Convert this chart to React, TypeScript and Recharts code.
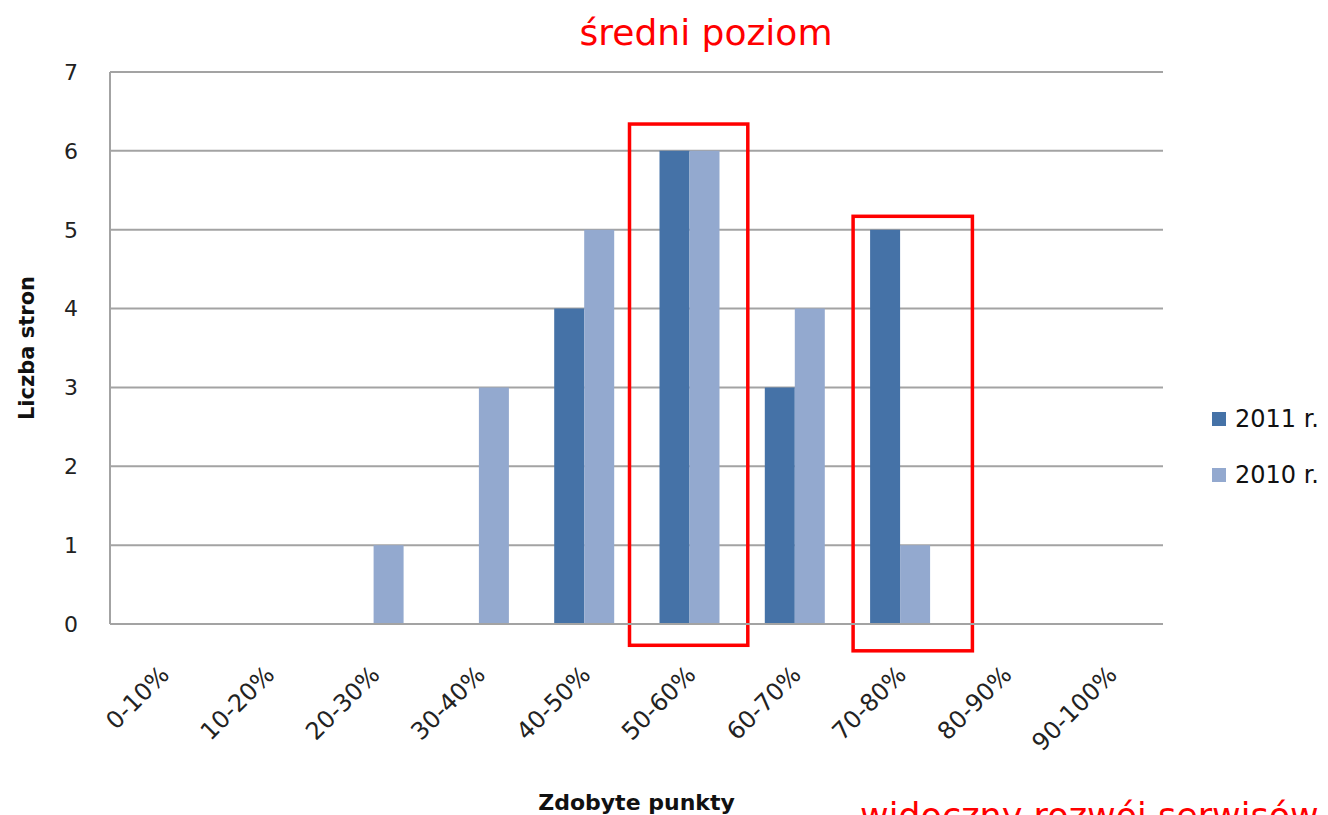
import {
  BarChart,
  Bar,
  XAxis,
  YAxis,
  CartesianGrid,
  Legend,
  ReferenceArea,
} from "recharts";

const ranges = [
  "0-10%",
  "10-20%",
  "20-30%",
  "30-40%",
  "40-50%",
  "50-60%",
  "60-70%",
  "70-80%",
  "80-90%",
  "90-100%",
];
const pages2011 = [0, 0, 0, 0, 4, 6, 3, 5, 0, 0];
const pages2010 = [0, 0, 1, 3, 5, 6, 4, 1, 0, 0];
const seriesNames = ["2011 r.", "2010 r."];
const yTicks = [0, 1, 2, 3, 4, 5, 6, 7];

const data = ranges.map((range, i) => ({
  range,
  y2011: pages2011[i],
  y2010: pages2010[i],
}));

// red highlight boxes drawn over the chart
const highlights = [
  { range: "50-60%", top: 6.34, bottom: -0.27, padLeft: 7, padRight: 6 },
  { range: "70-80%", top: 5.17, bottom: -0.34, padLeft: -6, padRight: 20 },
];

const GRID = "#a3a3a3";
const FONT = "'DejaVu Sans', Verdana, sans-serif";

const AngledTick = ({ x, y, payload }: any) => (
  <g transform={`translate(${x + 8},${y + 50})`}>
    <text
      textAnchor="end"
      transform="rotate(-45)"
      fontSize={24}
      fontFamily={FONT}
      fill="#222"
    >
      {payload.value}
    </text>
  </g>
);

const renderLegend = ({ payload }: any) => {
  const items = [...(payload || [])].sort(
    (a: any, b: any) => seriesNames.indexOf(a.value) - seriesNames.indexOf(b.value)
  );
  return (
    <div style={{ fontFamily: FONT, fontSize: 24, color: "#111" }}>
      {items.map((entry: any) => (
        <div
          key={entry.value}
          style={{ display: "flex", alignItems: "center", height: 56 }}
        >
          <span
            style={{
              display: "inline-block",
              width: 14,
              height: 14,
              background: entry.color,
              marginRight: 9,
            }}
          />
          <span>{entry.value}</span>
        </div>
      ))}
    </div>
  );
};

const boxShape = (padLeft: number, padRight: number) => (props: any) =>
  (
    <rect
      x={props.x - padLeft}
      y={props.y}
      width={props.width + padLeft + padRight}
      height={props.height}
      fill="none"
      stroke="#ff0000"
      strokeWidth={3.5}
    />
  );

export default function App() {
  return (
    <div
      style={{
        position: "absolute",
        left: 0,
        top: 0,
        width: 1328,
        height: 815,
        overflow: "hidden",
        background: "#fff",
      }}
    >
      <BarChart
        width={1328}
        height={815}
        data={data}
        margin={{ top: 72, right: 165, left: 10, bottom: 91 }}
        barGap={0}
      >
        <CartesianGrid vertical={false} stroke={GRID} strokeWidth={2} />
        <XAxis
          dataKey="range"
          interval={0}
          height={100}
          tickLine={false}
          tickSize={0}
          axisLine={{ stroke: GRID, strokeWidth: 2 }}
          tick={<AngledTick />}
          label={({ viewBox }: any) => (
            <text
              x={viewBox.x + viewBox.width / 2}
              y={viewBox.y + viewBox.height + 86}
              textAnchor="middle"
              fontSize={22}
              fontWeight="bold"
              fontFamily={FONT}
              fill="#111"
            >
              Zdobyte punkty
            </text>
          )}
        />
        <YAxis
          width={100}
          domain={[0, 7]}
          ticks={yTicks}
          interval={0}
          tickLine={false}
          tickSize={0}
          tickMargin={32}
          axisLine={{ stroke: GRID, strokeWidth: 2 }}
          tick={{ fontSize: 22, fontFamily: FONT, fill: "#222" }}
          label={({ viewBox }: any) => {
            const cx = 27;
            const cy = viewBox.y + viewBox.height / 2;
            return (
              <text
                x={cx}
                y={cy}
                transform={`rotate(-90, ${cx}, ${cy})`}
                textAnchor="middle"
                dominantBaseline="central"
                fontSize={21}
                fontWeight="bold"
                fontFamily={FONT}
                fill="#111"
              >
                Liczba stron
              </text>
            );
          }}
        />
        <Legend
          layout="vertical"
          align="center"
          verticalAlign="middle"
          content={renderLegend}
          wrapperStyle={{ left: 1212, top: 391, width: 120 }}
        />
        <Bar
          dataKey="y2011"
          name={seriesNames[0]}
          fill="#4572A7"
          barSize={30}
          isAnimationActive={false}
        />
        <Bar
          dataKey="y2010"
          name={seriesNames[1]}
          fill="#93A9CF"
          barSize={30}
          isAnimationActive={false}
        />
        {highlights.map((h) => (
          <ReferenceArea
            key={h.range}
            x1={h.range}
            x2={h.range}
            y1={h.bottom}
            y2={h.top}
            ifOverflow="visible"
            shape={boxShape(h.padLeft, h.padRight)}
          />
        ))}
      </BarChart>
      <svg
        width={1328}
        height={815}
        style={{ position: "absolute", left: 0, top: 0, pointerEvents: "none" }}
      >
        <text
          x={706}
          y={45}
          textAnchor="middle"
          fontSize={36}
          fontFamily={FONT}
          fill="#ff0000"
        >
          średni poziom
        </text>
        <text x={860} y={828} fontSize={35} fontFamily={FONT} fill="#ff0000">
          widoczny rozwój serwisów
        </text>
      </svg>
    </div>
  );
}
